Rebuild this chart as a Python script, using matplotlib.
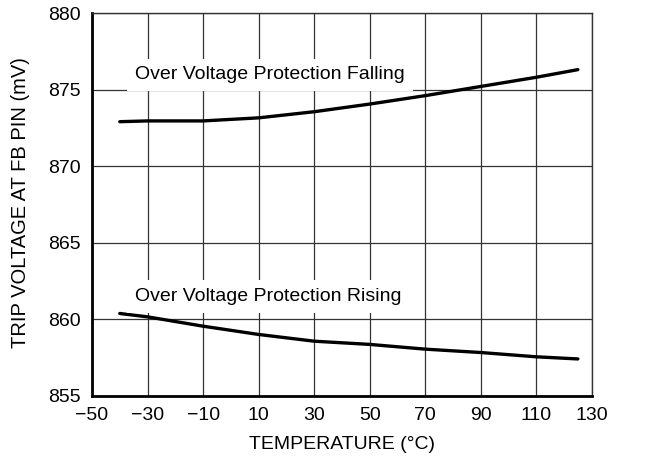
import numpy as np
import matplotlib.pyplot as plt

plt.rcParams['font.family'] = ['Liberation Sans', 'DejaVu Sans']

# temperatures (C)
temp = [-40, -30, -10, 10, 30, 50, 70, 90, 110, 125]
# over voltage protection falling (mV)
ovp_fall = [872.9, 872.95, 872.95, 873.15, 873.55, 874.05, 874.6, 875.2, 875.8, 876.3]
# over voltage protection rising (mV)
ovp_rise = [860.37, 860.15, 859.54, 859.0, 858.56, 858.35, 858.04, 857.82, 857.54, 857.4]

xticks = [-50, -30, -10, 10, 30, 50, 70, 90, 110, 130]
xtick_labels = ['\u221250', '\u221230', '\u221210', '10', '30', '50', '70', '90', '110', '130']
yticks = [855, 860, 865, 870, 875, 880]

fs = 14

fig = plt.figure(figsize=(6.63, 4.66), dpi=100)
ax = fig.add_axes([0.1388, 0.1509, 0.7537, 0.8212])

ax.plot(temp, ovp_fall, color='black', lw=2.4, solid_capstyle='round', zorder=3)
ax.plot(temp, ovp_rise, color='black', lw=2.4, solid_capstyle='round', zorder=3)

ax.text(-34.5, 875.95, 'Over Voltage Protection Falling', fontsize=fs, va='center', ha='left',
        bbox=dict(boxstyle='square,pad=0.4', fc='white', ec='none'), zorder=4)
ax.text(-34.5, 861.47, 'Over Voltage Protection Rising', fontsize=fs, va='center', ha='left',
        bbox=dict(boxstyle='square,pad=0.4', fc='white', ec='none'), zorder=4)

ax.set_xlim(-50, 130)
ax.set_ylim(855, 880)
ax.set_xticks(xticks)
ax.set_xticklabels(xtick_labels)
ax.set_yticks(yticks)
ax.tick_params(length=0, labelsize=fs, pad=8)
ax.grid(True, color='#333333', lw=0.9)
ax.set_axisbelow(True)
for s in ax.spines.values():
    s.set_linewidth(1.0)
    s.set_color('#333333')
ax.spines['left'].set_linewidth(2)
ax.spines['left'].set_color('black')
ax.spines['bottom'].set_linewidth(2)
ax.spines['bottom'].set_color('black')

ax.set_xlabel('TEMPERATURE (\u00b0C)', fontsize=fs)
ax.xaxis.set_label_coords(0.5, -0.106)
ax.set_ylabel('TRIP VOLTAGE AT FB PIN (mV)', fontsize=14.5)
ax.yaxis.set_label_coords(-0.125, 0.505)

fig.savefig('out.png', dpi=100)
